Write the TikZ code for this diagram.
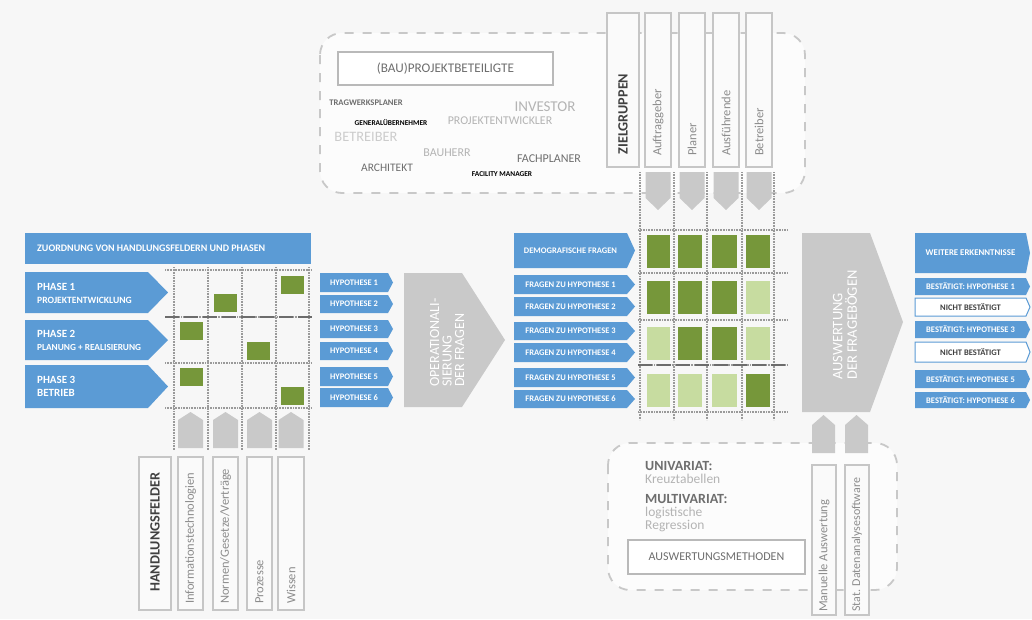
\documentclass[tikz,border=0pt]{standalone}
\usepackage{fontspec}
\setmainfont{Carlito}
\definecolor{blueC}{HTML}{5B9BD5}
\definecolor{grayA}{HTML}{C9C9C9}
\definecolor{colB}{HTML}{C6C6C6}
\definecolor{gridC}{HTML}{9A9A9A}
\definecolor{dgreen}{HTML}{76973A}
\definecolor{lgreen}{HTML}{C7DCA0}
\definecolor{bgC}{HTML}{F7F7F7}
\definecolor{txtD}{HTML}{404040}
\definecolor{txtM}{HTML}{6E6E6E}
\definecolor{txtG}{HTML}{8C8C8C}
\definecolor{txtL}{HTML}{B4B4B4}
\definecolor{dashC}{HTML}{C8C8C8}
\newcommand\myfs[1]{\fontsize{#1}{#1}\selectfont}
% #1 fill style, #2 name, #3 x1, #4 y1, #5 x2, #6 y2, #7 tip depth, #8 text
\newcommand\mychev[8]{%
  \path[#1] (#3,#4) -- ({#5-#7},#4) -- (#5,{(#4+#6)/2}) -- ({#5-#7},#6) -- (#3,#6) -- cycle;
  \node[chtxt] (#2) at ({(#3+#5-#7)/2},{(#4+#6)/2}) {#8};}
\newcommand\cellrow[5]{%
  \fill[#2] (647,#1) rectangle (670,{#1+33});
  \fill[#3] (678,#1) rectangle (702,{#1+33});
  \fill[#4] (712,#1) rectangle (737,{#1+33});
  \fill[#5] (746,#1) rectangle (770,{#1+33});}
\begin{document}
\begin{tikzpicture}[x=1pt,y=-1pt,
  bl/.style={fill=blueC},
  wb/.style={fill=white, draw=blueC, line width=1pt},
  chtxt/.style={text=white, font=\bfseries\myfs{8.5}, inner sep=0pt},
  colbox/.style={draw=colB, fill=white!96!gray, line width=1.2pt},
  vlab/.style={rotate=90, anchor=west, text=txtG, font=\myfs{12.5}, inner sep=0pt},
  vhead/.style={rotate=90, text=txtD, font=\bfseries\myfs{14.2}, inner sep=0pt},
  grd/.style={draw=gridC, line width=1.2pt, dash pattern=on 0.8pt off 0.8pt},
  grdD/.style={draw=gray!85!black, line width=1.5pt, dash pattern=on 14pt off 5pt},
  garrow/.style={fill=grayA},
  dcell/.style={fill=dgreen},
  lcell/.style={fill=lgreen},
  dbox/.style={draw=dashC, line width=1.8pt, dash pattern=on 9pt off 9pt, rounded corners=22pt},
  cloud/.style={inner sep=0pt},
  bigtxt/.style={rotate=90, anchor=west, align=left, text=white, inner sep=0pt},
  meth/.style={anchor=base west, inner sep=0pt, font=\myfs{13.5}}
]
\fill[bgC] (0,0) rectangle (1032,619);
\useasboundingbox (0,0) rectangle (1032,619);

% ---------- top: project participants ----------
\draw[dbox, fill=white!60!bgC] (320,33) rectangle (805,193);
\node[draw=gray!55, line width=1.2pt, fill=white, minimum width=215pt, minimum height=33pt,
      text=txtM, font=\myfs{13.2}] (bau) at (445.5,68.5) {(BAU)PROJEKTBETEILIGTE};
\node[cloud, text=txtM, font=\bfseries\myfs{8.6}] (w1) at (366,103) {TRAGWERKSPLANER};
\node[cloud, text=txtL, font=\myfs{15}] (w2) at (545,107) {INVESTOR};
\node[cloud, text=black, font=\bfseries\myfs{7.4}] (w3) at (391,123) {GENERALÜBERNEHMER};
\node[cloud, text=txtL, font=\myfs{11.9}] (w4) at (500,121) {PROJEKTENTWICKLER};
\node[cloud, text=gray!40, font=\myfs{14.4}] (w5) at (366,137) {BETREIBER};
\node[cloud, text=txtL, font=\myfs{12}] (w6) at (447,153) {BAUHERR};
\node[cloud, text=txtM, font=\myfs{12}] (w7) at (549,159) {FACHPLANER};
\node[cloud, text=txtM, font=\myfs{11.5}] (w8) at (387,168) {ARCHITEKT};
\node[cloud, text=black, font=\bfseries\myfs{7.4}] (w9) at (502,174) {FACILITY MANAGER};

% target group columns
\draw[colbox] (607,13) rectangle (639,167);
\node[vhead] (zg) at (623,114) {ZIELGRUPPEN};
\draw[colbox] (645,13) rectangle (671,167);
\node[vlab] (ag) at (658,156) {Auftraggeber};
\draw[colbox] (679,13) rectangle (705,167);
\node[vlab] (pl) at (692,156) {Planer};
\draw[colbox] (713,13) rectangle (739,167);
\node[vlab] (af) at (726,156) {Ausführende};
\draw[colbox] (746,13) rectangle (772,167);
\node[vlab] (be) at (759,156) {Betreiber};

% ---------- grids ----------
\foreach \x in {640,674,707,742,774} \draw[grd] (\x,172) -- (\x,420);
\foreach \y in {230,273,320,365,412} \draw[grd] (638,\y) -- (788,\y);
\draw[grdD] (638,365) -- (788,365);
\foreach \x in {174,208,242,276,309} \draw[grd] (\x,267) -- (\x,450);
\foreach \y in {270,317,363,408} \draw[grd] (165,\y) -- (312,\y);
\draw[grdD] (165,317) -- (312,317);

% down arrows
\foreach \c in {658,692,726,759}
  \fill[garrow] (\c-12.5,172) -- (\c+12.5,172) -- (\c+12.5,198) -- (\c,210) -- (\c-12.5,198) -- cycle;

% middle cells
\cellrow{235}{dcell}{dcell}{dcell}{dcell}
\cellrow{281}{dcell}{dcell}{dcell}{lcell}
\cellrow{327}{lcell}{dcell}{dcell}{lcell}
\cellrow{374}{lcell}{lcell}{lcell}{dcell}

% middle chevrons
\mychev{bl}{df}{514}{233}{635}{268}{8}{DEMOGRAFISCHE FRAGEN}
\mychev{bl}{f1}{514}{275}{635}{294}{8}{FRAGEN ZU HYPOTHESE 1}
\mychev{bl}{f2}{514}{297}{635}{316}{8}{FRAGEN ZU HYPOTHESE 2}
\mychev{bl}{f3}{514}{322}{635}{340}{8}{FRAGEN ZU HYPOTHESE 3}
\mychev{bl}{f4}{514}{343}{635}{362}{8}{FRAGEN ZU HYPOTHESE 4}
\mychev{bl}{f5}{514}{368}{635}{387}{8}{FRAGEN ZU HYPOTHESE 5}
\mychev{bl}{f6}{514}{390}{635}{408}{8}{FRAGEN ZU HYPOTHESE 6}

% ---------- left: phases ----------
\fill[blueC] (25,233) rectangle (311,264);
\node[chtxt, font=\bfseries\myfs{10}, anchor=west] (zu) at (37,248.5) {ZUORDNUNG VON HANDLUNGSFELDERN UND PHASEN};
\path[bl] (25,272) -- (148,272) -- (168,292.5) -- (148,313) -- (25,313) -- cycle;
\path[bl] (25,320) -- (148,320) -- (168,340) -- (148,360) -- (25,360) -- cycle;
\path[bl] (25,365) -- (148,365) -- (168,386.5) -- (148,408) -- (25,408) -- cycle;
\node[anchor=west, text=white, align=left, inner sep=0pt] (p1) at (37,293)
  {{\bfseries\myfs{11}PHASE 1}\\[1pt]{\bfseries\myfs{9.6}PROJEKTENTWICKLUNG}};
\node[anchor=west, text=white, align=left, inner sep=0pt] (p2) at (37,340.5)
  {{\bfseries\myfs{11}PHASE 2}\\[1pt]{\bfseries\myfs{9.3}PLANUNG + REALISIERUNG}};
\node[anchor=west, text=white, align=left, inner sep=0pt] (p3) at (37,386)
  {{\bfseries\myfs{11}PHASE 3}\\[1pt]{\bfseries\myfs{11}BETRIEB}};

% left cells
\foreach \a/\b in {281/276,214/294,180/322,247/342,180/368,281/387}
  \fill[dcell] (\a,\b) rectangle (\a+23,\b+18);

% up arrows left
\foreach \c in {190.5,225.5,259.5,291}
  \fill[garrow] (\c-12.5,448) -- (\c-12.5,420) -- (\c,412) -- (\c+12.5,420) -- (\c+12.5,448) -- cycle;

% action field columns
\draw[colbox] (139,457) rectangle (171,610);
\node[vhead] (hf) at (155,532) {HANDLUNGSFELDER};
\draw[colbox] (178,457) rectangle (203,610);
\node[vlab] (it) at (190.5,604) {Informationstechnologien};
\draw[colbox] (213,457) rectangle (238,610);
\node[vlab] (ng) at (225.5,604) {Normen/Gesetze/Verträge};
\draw[colbox] (247,457) rectangle (272,610);
\node[vlab] (pz) at (259.5,604) {Prozesse};
\draw[colbox] (278,457) rectangle (304,610);
\node[vlab] (wi) at (291,604) {Wissen};

% hypotheses
\mychev{bl}{h1}{320}{273}{393}{292}{5}{HYPOTHESE 1}
\mychev{bl}{h2}{320}{295}{393}{313}{5}{HYPOTHESE 2}
\mychev{bl}{h3}{320}{320}{393}{338}{5}{HYPOTHESE 3}
\mychev{bl}{h4}{320}{342}{393}{360}{5}{HYPOTHESE 4}
\mychev{bl}{h5}{320}{367}{393}{386}{5}{HYPOTHESE 5}
\mychev{bl}{h6}{320}{388}{393}{407}{5}{HYPOTHESE 6}

% operationalisation arrow
\fill[garrow] (404,273) -- (462,273) -- (505,340) -- (462,407) -- (404,407) -- cycle;
\node[bigtxt, font=\myfs{14}] (op) at (447,387) {OPERATIONALI-\\[-1.5pt]SIERUNG\\[-1.5pt]DER FRAGEN};

% evaluation arrow
\fill[garrow] (802,233) -- (870,233) -- (903,322) -- (870,412) -- (802,412) -- cycle;
\node[bigtxt, font=\myfs{14.5}] (aw) at (845,380) {AUSWERTUNG\\[0pt]DER FRAGEBÖGEN};

% ---------- right: results ----------
\mychev{bl}{we}{915}{233}{1030}{273}{4}{\myfs{8.8}WEITERE ERKENNTNISSE}
\mychev{bl}{b1}{915}{278}{1030}{295}{4}{BESTÄTIGT: HYPOTHESE 1}
\mychev{wb}{n2}{915}{298}{1030}{316}{4}{\color{txtD}NICHT BESTÄTIGT}
\mychev{bl}{b3}{915}{321}{1030}{338}{4}{BESTÄTIGT: HYPOTHESE 3}
\mychev{wb}{n4}{915}{342}{1030}{362}{4}{\color{txtD}NICHT BESTÄTIGT}
\mychev{bl}{b5}{915}{370}{1030}{388}{4}{BESTÄTIGT: HYPOTHESE 5}
\mychev{bl}{b6}{915}{392}{1030}{408}{4}{BESTÄTIGT: HYPOTHESE 6}

% ---------- bottom: evaluation methods ----------
\draw[dbox, fill=white!60!bgC] (608,443) rectangle (897,590);
\foreach \c in {823.5,856.5}
  \fill[garrow] (\c-11.5,453) -- (\c-11.5,425) -- (\c,415) -- (\c+11.5,425) -- (\c+11.5,453) -- cycle;
\node[meth, text=txtM, font=\bfseries\myfs{14}] (uv) at (645,470) {UNIVARIAT:};
\node[meth, text=txtL] (kt) at (645,483) {Kreuztabellen};
\node[meth, text=txtM, font=\bfseries\myfs{14}] (mv) at (645,503.5) {MULTIVARIAT:};
\node[meth, text=txtL] (lg) at (645,516) {logistische};
\node[meth, text=txtL] (rg) at (645,529) {Regression};
\node[draw=gray!55, line width=1.2pt, fill=white, minimum width=177pt, minimum height=34pt,
      text=txtM, font=\myfs{12}] (am) at (716.5,557) {AUSWERTUNGSMETHODEN};
\draw[colbox] (812,465) rectangle (836,615);
\node[vlab] (ma) at (824,612) {Manuelle Auswertung};
\draw[colbox] (845,465) rectangle (869,615);
\node[vlab, font=\myfs{12}] (sd) at (857,612) {Stat. Datenanalysesoftware};
\end{tikzpicture}
\end{document}
